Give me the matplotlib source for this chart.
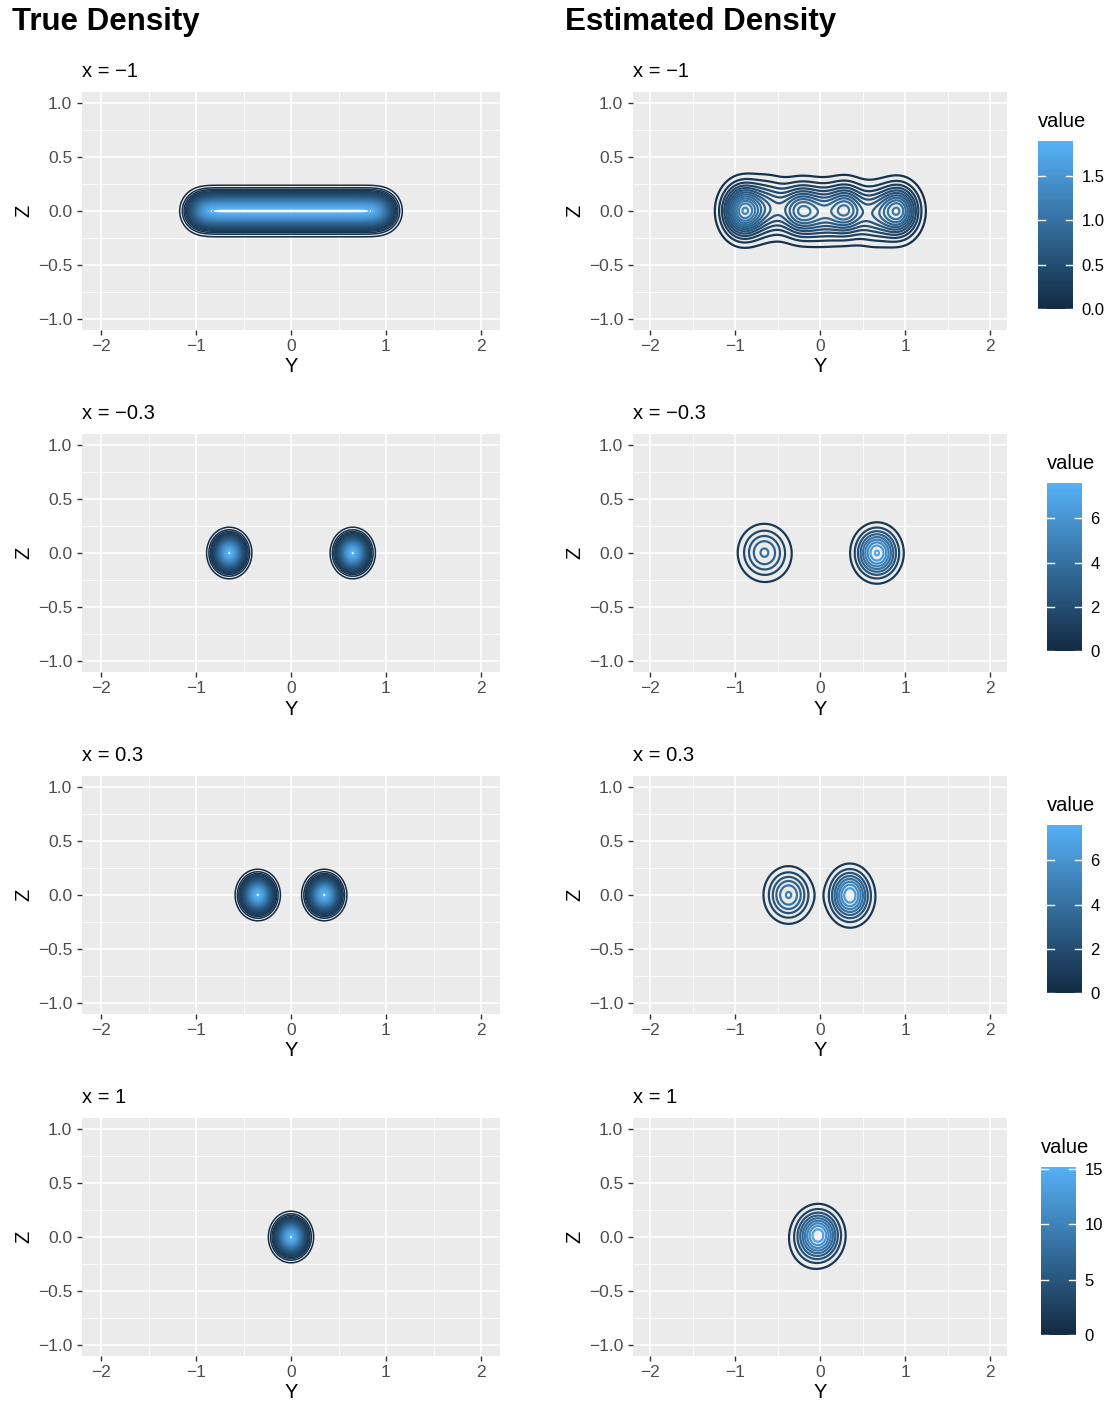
import math
import numpy as np
import matplotlib
matplotlib.use("Agg")
import matplotlib.pyplot as plt
from matplotlib.colors import LinearSegmentedColormap, Normalize

plt.rcParams["font.family"] = ["Liberation Sans", "DejaVu Sans"]

W, H = 1117, 1401

# facet values and colour-bar ranges
x_titles = ["x = \u22121", "x = \u22120.3", "x = 0.3", "x = 1"]
cb_max = [1.89, 7.6, 7.6, 15.2]
cb_ticks = [[0.0, 0.5, 1.0, 1.5], [0, 2, 4, 6], [0, 2, 4, 6], [0, 5, 10, 15]]
cb_labels = [["0.0", "0.5", "1.0", "1.5"], ["0", "2", "4", "6"],
             ["0", "2", "4", "6"], ["0", "5", "10", "15"]]

# true density: ridges along Y (segment lo..hi) at Z = 0
true_lo = [[-1.0], [-0.65, 0.65], [-0.35, 0.35], [0.0]]
true_hi = [[1.0], [-0.65, 0.65], [-0.35, 0.35], [0.0]]
true_peak = [1.89, 7.6, 7.6, 15.2]
true_sigma = 0.088
true_bins = 38

# estimated density: bumps (Y centre, Z centre, height, sd Y, sd Z)
est_y = [[-0.9, -0.6, -0.22, 0.05, 0.3, 0.62, 0.92],
         [-0.66, -0.6, 0.67],
         [-0.37, 0.35, 0.38],
         [-0.02, -0.1]]
est_z = [[0.0, 0.03, 0.0, -0.02, 0.01, -0.03, 0.0],
         [0.01, -0.05, 0.0],
         [0.0, 0.0, -0.06],
         [0.02, -0.08]]
est_h = [[1.25, 0.5, 0.95, 0.45, 0.9, 0.5, 1.05],
         [3.6, 0.6, 7.3],
         [4.9, 6.6, 0.6],
         [13.5, 1.6]]
est_sy = [[0.15, 0.15, 0.16, 0.14, 0.14, 0.15, 0.15],
          [0.17, 0.2, 0.15],
          [0.155, 0.14, 0.17],
          [0.15, 0.19]]
est_sz = [[0.15, 0.16, 0.15, 0.16, 0.15, 0.16, 0.15],
          [0.145, 0.16, 0.135],
          [0.14, 0.14, 0.15],
          [0.135, 0.16]]
est_step = [0.1, 0.8, 0.8, 1.5]

cmap = LinearSegmentedColormap.from_list("gg", ["#132B43", "#56B1F7"])

gy = np.linspace(-2.2, 2.2, 441)
gz = np.linspace(-1.1, 1.1, 221)
GY, GZ = np.meshgrid(gy, gz)
verf = np.vectorize(math.erf)


def seg_profile(y, a, b, s):
    if b - a < 1e-9:
        return np.exp(-(y - a) ** 2 / (2 * s * s))
    return 0.5 * (verf((y - a) / (s * math.sqrt(2))) - verf((y - b) / (s * math.sqrt(2))))


def true_density(i):
    d = np.zeros_like(GY)
    for a, b in zip(true_lo[i], true_hi[i]):
        d = np.maximum(d, seg_profile(GY, a, b, true_sigma))
    return true_peak[i] * d * np.exp(-GZ ** 2 / (2 * true_sigma ** 2))


def est_density(i):
    d = np.zeros_like(GY)
    for y0, z0, h, sy, sz in zip(est_y[i], est_z[i], est_h[i], est_sy[i], est_sz[i]):
        d += h * np.exp(-(GY - y0) ** 2 / (2 * sy * sy) - (GZ - z0) ** 2 / (2 * sz * sz))
    return d


def add_ax(x, y, w, h):
    return fig.add_axes([x / W, 1 - (y + h) / H, w / W, h / H])


def style(ax):
    ax.set_facecolor("#EBEBEB")
    for s in ax.spines.values():
        s.set_visible(False)
    ax.set_xlim(-2.2, 2.2)
    ax.set_ylim(-1.1, 1.1)
    ax.set_xticks([-2, -1, 0, 1, 2])
    ax.set_xticklabels(["\u22122", "\u22121", "0", "1", "2"])
    ax.set_yticks([-1, -0.5, 0, 0.5, 1])
    ax.set_yticklabels(["\u22121.0", "\u22120.5", "0.0", "0.5", "1.0"])
    ax.set_xticks([-1.5, -0.5, 0.5, 1.5], minor=True)
    ax.set_yticks([-0.75, -0.25, 0.25, 0.75], minor=True)
    ax.grid(which="major", color="white", lw=1.2)
    ax.grid(which="minor", color="white", lw=0.6)
    ax.set_axisbelow(True)
    ax.tick_params(which="major", length=3.5, width=1, color="#333333",
                   labelcolor="#4D4D4D", labelsize=12.5)
    ax.tick_params(axis="x", pad=3)
    ax.tick_params(axis="y", pad=3.5)
    ax.tick_params(which="minor", length=0)
    ax.set_xlabel("Y", fontsize=14.5, labelpad=2.5)
    ax.set_ylabel("Z", fontsize=14.5, labelpad=3)


fig = plt.figure(figsize=(W / 100, H / 100), dpi=100)
fig.text(12 / W, 1 - 22 / H, "True Density", fontsize=22.5, fontweight="bold", va="center")
fig.text(565 / W, 1 - 22 / H, "Estimated Density", fontsize=22.5, fontweight="bold", va="center")

cb_left = [1038, 1047, 1047, 1041]

for i in range(4):
    top = 92 + 342 * i
    norm = Normalize(0, cb_max[i])

    ax = add_ax(82, top, 418, 238)
    style(ax)
    lv = np.linspace(0, true_peak[i], true_bins + 2)[1:-1]
    ax.contour(GY, GZ, true_density(i), levels=lv, cmap=cmap, norm=norm, linewidths=1.1)
    ax.set_title(x_titles[i], loc="left", fontsize=14.5, pad=11)

    ax = add_ax(633, top, 374, 238)
    style(ax)
    lv = np.arange(est_step[i], cb_max[i], est_step[i])
    ax.contour(GY, GZ, est_density(i), levels=lv, cmap=cmap, norm=norm, linewidths=1.6)
    ax.set_title(x_titles[i], loc="left", fontsize=14.5, pad=11)

    # colour bar
    cax = add_ax(cb_left[i], top + 49, 35, 168)
    grad = np.linspace(0, cb_max[i], 200).reshape(-1, 1)
    cax.imshow(grad, aspect="auto", cmap=cmap, norm=norm, origin="lower",
               extent=[0, 1, 0, cb_max[i]])
    cax.set_xlim(0, 1)
    cax.set_ylim(0, cb_max[i])
    for s in cax.spines.values():
        s.set_visible(False)
    cax.set_xticks([])
    cax.yaxis.tick_right()
    cax.set_yticks(cb_ticks[i])
    cax.set_yticklabels(cb_labels[i])
    cax.tick_params(length=0, labelsize=12, pad=6, labelcolor="black")
    for t in cb_ticks[i]:
        cax.plot([0, 0.2], [t, t], color="white", lw=1)
        cax.plot([0.8, 1], [t, t], color="white", lw=1)
    cax.text(0, 1.06, "value", transform=cax.transAxes, fontsize=14.5,
             va="bottom", ha="left")

fig.savefig("out.png", dpi=100)
